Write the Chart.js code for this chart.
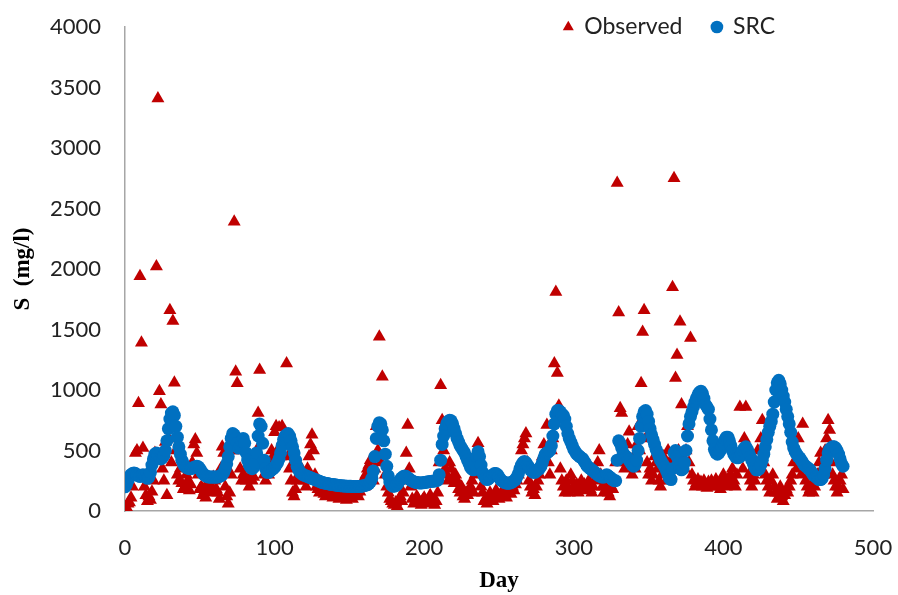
<!DOCTYPE html>
<html>
<head>
<meta charset="utf-8">
<script src="https://cdn.jsdelivr.net/npm/chart.js@4.4.0/dist/chart.umd.min.js"></script>
<style>
body{margin:0;background:#fff;}
</style>
</head>
<body>
<canvas id="myChart" width="898" height="595"></canvas>
<script>
// daily sediment concentration, day 0 .. 480
const observed = [
  20, 30, 60, 70, 110, 200, 300, 480, 500, 890,
  1940, 1390, 520, 200, 130, 80, 120, 90, 160, 250,
  480, 2020, 3410, 990, 880, 350, 250, 570, 130, 600,
  1660, 400, 1570, 1060, 500, 300, 250, 350, 230, 180,
  200, 300, 250, 170, 220, 400, 550, 590, 480, 300,
  180, 200, 130, 160, 110, 230, 180, 150, 200, 280,
  250, 180, 150, 100, 350, 530, 480, 200, 120, 60,
  150, 300, 500, 2390, 1150, 1055, 500, 350, 250, 300,
  280, 250, 350, 200, 300, 250, 280, 400, 500, 810,
  1165, 550, 400, 300, 250, 350, 300, 400, 500, 450,
  650, 700, 500, 690, 450, 700, 550, 600, 1220, 450,
  350, 250, 150, 120, 180, 250, 300, 280, 350, 300,
  250, 200, 350, 450, 550, 630, 500, 300, 200, 180,
  150, 200, 170, 140, 120, 160, 190, 150, 130, 110,
  150, 180, 120, 100, 140, 170, 130, 110, 90, 130,
  160, 120, 100, 140, 180, 150, 120, 160, 200, 250,
  200, 300, 350, 380, 420, 300, 250, 350, 700, 500,
  1440, 400, 1110, 600, 300, 200, 150, 100, 80, 60,
  50, 70, 40, 90, 120, 80, 150, 250, 480, 710,
  350, 200, 100, 60, 80, 120, 100, 70, 50, 90,
  110, 80, 60, 100, 130, 90, 70, 50, 80, 150,
  400, 1040, 750, 500, 350, 300, 250, 400, 350, 280,
  230, 300, 250, 180, 150, 200, 120, 100, 150, 130,
  180, 200, 250, 150, 300, 400, 560, 350, 200, 150,
  80, 100, 60, 120, 150, 100, 80, 130, 170, 120,
  100, 140, 120, 160, 130, 110, 150, 180, 140, 200,
  170, 220, 250, 300, 350, 500, 550, 600, 640, 400,
  250, 200, 150, 180, 130, 200, 250, 300, 400, 450,
  550, 500, 710, 400, 300, 500, 600, 1220, 1810, 1140,
  870, 350, 250, 200, 150, 250, 200, 150, 300, 250,
  200, 180, 220, 150, 200, 250, 180, 220, 170, 200,
  250, 180, 150, 200, 250, 300, 400, 500, 300, 200,
  150, 200, 180, 150, 120, 200, 180, 250, 400, 2710,
  1640, 850, 810, 500, 350, 400, 550, 655, 400, 300,
  450, 350, 550, 700, 500, 1055, 1480, 1660, 600, 400,
  300, 350, 250, 300, 450, 400, 350, 250, 200, 300,
  450, 350, 250, 500, 400, 300, 1850, 2750, 1100, 1290,
  500, 1565, 880, 450, 350, 500, 700, 400, 1430, 300,
  250, 200, 230, 260, 210, 240, 200, 250, 220, 190,
  240, 210, 250, 200, 230, 260, 200, 220, 180, 250,
  300, 240, 200, 260, 220, 300, 350, 250, 200, 300,
  450, 860, 500, 350, 600, 860, 450, 300, 250, 200,
  300, 250, 400, 500, 350, 600, 750, 400, 300, 250,
  200, 150, 250, 300, 200, 150, 100, 150, 200, 120,
  80, 130, 180, 150, 200, 250, 300, 400, 500, 350,
  600, 450, 300, 720, 400, 250, 200, 150, 180, 220,
  150, 200, 250, 300, 400, 480, 350, 300, 500, 600,
  750, 670, 400, 300, 250, 200, 150, 200, 250, 300,
  180
];

const src = [
  200, 220, 250, 280, 300, 310, 315, 310, 300, 290,
  285, 290, 300, 295, 280, 270, 280, 320, 380, 430,
  470, 480, 460, 440, 430, 440, 460, 500, 580, 680,
  760, 810, 820, 790, 700, 610, 530, 470, 420, 390,
  370, 360, 355, 350, 350, 355, 360, 365, 370, 365,
  350, 330, 310, 300, 290, 285, 280, 280, 280, 280,
  280, 280, 280, 285, 290, 300, 320, 350, 390, 450,
  530, 600, 640, 630, 600, 560, 520, 540, 580, 600,
  560, 480, 420, 380, 360, 350, 360, 400, 480, 620,
  720, 700, 560, 420, 350, 320, 320, 330, 340, 350,
  360, 380, 400, 430, 480, 540, 590, 620, 630, 640,
  620, 580, 530, 480, 420, 370, 340, 320, 310, 300,
  295, 290, 285, 280, 275, 270, 265, 260, 255, 250,
  245, 240, 235, 232, 230, 228, 225, 222, 220, 218,
  216, 214, 212, 210, 209, 208, 207, 206, 205, 205,
  204, 204, 203, 203, 203, 203, 203, 204, 205, 207,
  210, 213, 218, 225, 240, 270, 330, 450, 600, 700,
  730, 720, 670, 580, 470, 370, 290, 240, 215, 205,
  205, 210, 220, 240, 260, 275, 285, 290, 285, 275,
  265, 255, 248, 242, 238, 235, 233, 232, 232, 233,
  235, 237, 240, 242, 244, 245, 246, 248, 250, 255,
  300, 420, 550, 620, 680, 720, 740, 750, 745, 720,
  680, 640, 600, 570, 540, 520, 500, 480, 450, 420,
  390, 360, 345, 340, 380, 450, 490, 450, 380, 320,
  290, 270, 260, 265, 280, 290, 300, 310, 310, 300,
  280, 260, 250, 240, 235, 230, 230, 230, 235, 240,
  250, 260, 280, 310, 350, 380, 400, 410, 400, 380,
  360, 340, 330, 320, 320, 330, 340, 350, 370, 400,
  440, 470, 480, 490, 500, 540, 620, 720, 800, 830,
  830, 820, 800, 790, 760, 700, 640, 600, 570, 540,
  510, 490, 470, 460, 450, 440, 430, 410, 390, 370,
  360, 350, 340, 330, 320, 310, 300, 290, 285, 280,
  280, 290, 300, 290, 280, 270, 260, 250, 250, 420,
  580, 560, 520, 480, 460, 450, 440, 420, 400, 380,
  370, 380, 420, 500, 600, 700, 780, 820, 830, 800,
  740, 680, 630, 590, 550, 510, 480, 450, 420, 400,
  380, 360, 330, 300, 270, 260, 350, 480, 500, 450,
  400, 360, 340, 350, 400, 500, 620, 720, 780, 820,
  860, 900, 930, 960, 980, 990, 970, 930, 880, 860,
  840, 760, 670, 580, 510, 480, 470, 480, 500, 530,
  560, 590, 610, 610, 580, 540, 500, 470, 450, 440,
  440, 450, 470, 500, 520, 530, 510, 480, 450, 420,
  390, 360, 340, 340, 350, 380, 420, 470, 530, 590,
  650, 700, 740, 800, 900, 1000, 1060, 1080, 1050, 1000,
  950, 900, 840, 780, 720, 650, 570, 520, 490, 470,
  450, 440, 420, 400, 380, 370, 360, 350, 340, 320,
  300, 290, 280, 270, 260, 260, 270, 300, 350, 420,
  480, 510, 520, 530, 530, 520, 500, 470, 430, 390,
  370
];

const days = observed.map((v, i) => i);
const xTicks = [0, 100, 200, 300, 400, 500];
const yTicks = [0, 500, 1000, 1500, 2000, 2500, 3000, 3500, 4000];

const obsPoints = days.map((d, i) => ({x: d, y: observed[i]}));
const srcPoints = days.map((d, i) => ({x: d, y: src[i]}));

Chart.defaults.font.family = "Lato";
Chart.defaults.color = "#222";

// legend sits over the plot in the top right corner, so it takes no layout room
const legendSpot = {
  id: "legendSpot",
  afterInit(chart){
    const lg = chart.legend;
    const fit = lg.fit.bind(lg);
    lg.fit = function(){ fit(); this.height = 0; };
  },
  beforeDraw(chart){
    const lg = chart.legend;
    lg.left = 0;
    lg.top = 27 - 30 - 11.5;
    lg.right = 775 + 30;
    lg.bottom = 80;
  }
};

const ctx = document.getElementById("myChart").getContext("2d");
const myChart = new Chart(ctx, {
  type: "scatter",
  data: {
    datasets: [
      {
        label: "Observed",
        data: obsPoints,
        pointStyle: "triangle",
        pointRadius: 7.5,
        pointBackgroundColor: "#C00000",
        pointBorderWidth: 0,
        backgroundColor: "#C00000",
        borderColor: "#C00000",
        order: 2
      },
      {
        label: "SRC",
        data: srcPoints,
        pointStyle: "circle",
        pointRadius: 6.5,
        pointBackgroundColor: "#0070C0",
        pointBorderWidth: 0,
        backgroundColor: "#0070C0",
        borderColor: "#0070C0",
        order: 1
      }
    ]
  },
  options: {
    responsive: false,
    animation: false,
    layout: {padding: {left: 0, right: 25, top: 27, bottom: 0}},
    plugins: {
      tooltip: {enabled: false},
      legend: {
        position: "top",
        align: "end",
        labels: {
          usePointStyle: true,
          boxWidth: 9,
          boxHeight: 9,
          padding: 30,
          color: "#222",
          font: {size: 23},
          sort: (a, b) => a.datasetIndex - b.datasetIndex
        }
      }
    },
    scales: {
      x: {
        type: "linear",
        min: 0,
        max: 500,
        afterBuildTicks: (scale) => { scale.ticks = xTicks.map(v => ({value: v})); },
        afterFit: (scale) => {
          scale.height = 84;
          scale.paddingLeft = 0;
          scale.paddingRight = 0;
        },
        grid: {display: false, drawTicks: false},
        border: {display: true, color: "#a6a6a6", width: 1.5},
        ticks: {padding: 24, font: {size: 22}, color: "#222", callback: (v) => String(v)},
        title: {
          display: true,
          text: "Day",
          color: "#000",
          padding: {top: 0, bottom: 0},
          font: {family: "Liberation Serif", weight: "bold", size: 23}
        }
      },
      y: {
        type: "linear",
        min: 0,
        max: 4000,
        afterBuildTicks: (scale) => { scale.ticks = yTicks.map(v => ({value: v})); },
        afterFit: (scale) => {
          scale.width = 125;
          scale.paddingTop = 0;
          scale.paddingBottom = 0;
        },
        grid: {display: false, drawTicks: false},
        border: {display: true, color: "#a6a6a6", width: 1.5},
        ticks: {padding: 24, font: {size: 22}, color: "#222", callback: (v) => String(v)},
        title: {
          display: true,
          text: "S  (mg/l)",
          color: "#000",
          padding: {top: 9, bottom: 0},
          font: {family: "Liberation Serif", weight: "bold", size: 23}
        }
      }
    }
  },
  plugins: [legendSpot]
});
</script>
</body>
</html>
